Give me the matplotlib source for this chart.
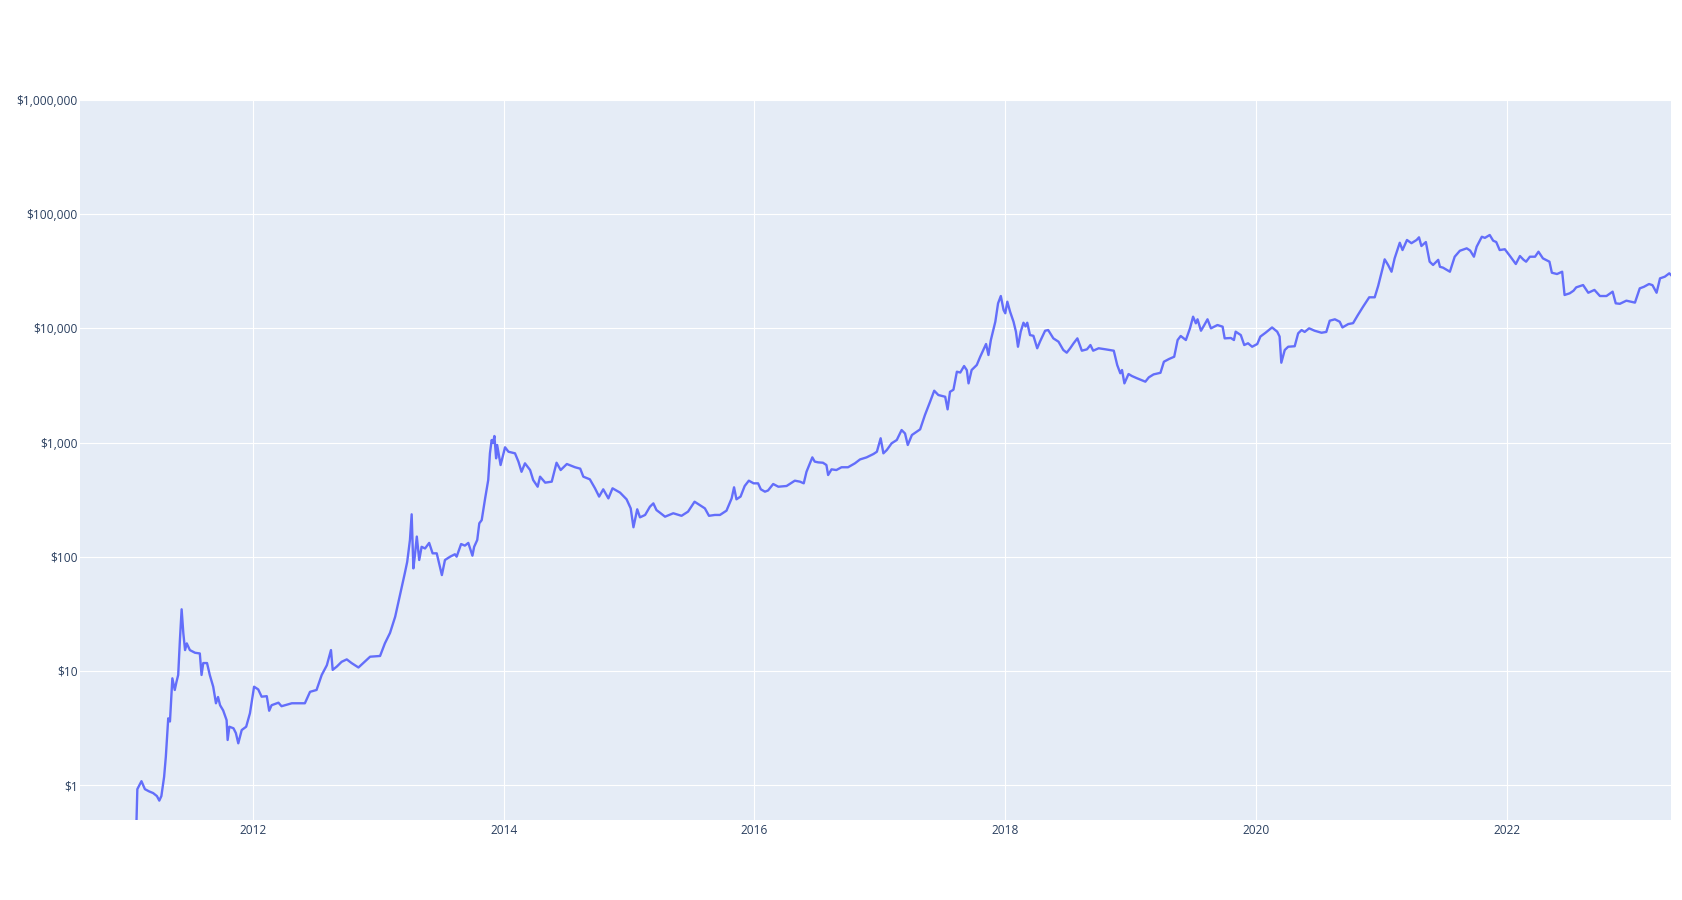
import matplotlib
matplotlib.use("Agg")
import matplotlib.pyplot as plt
import matplotlib.dates as mdates
from matplotlib.ticker import FixedLocator, NullLocator, FuncFormatter
import pandas as pd

# bitcoin close price (log scale)
dates = [
    "2010-08-16", "2010-09-15", "2010-10-15", "2010-11-06", "2010-12-01", "2011-01-01", "2011-01-27",
    "2011-01-30", "2011-02-11", "2011-02-21", "2011-03-05", "2011-03-17", "2011-03-28", "2011-04-04",
    "2011-04-10", "2011-04-18", "2011-04-23", "2011-04-30", "2011-05-05", "2011-05-12", "2011-05-19",
    "2011-05-24", "2011-05-29", "2011-06-03", "2011-06-08", "2011-06-13", "2011-06-18", "2011-06-23",
    "2011-07-02", "2011-07-17", "2011-07-31", "2011-08-05", "2011-08-10", "2011-08-21", "2011-08-29",
    "2011-09-08", "2011-09-16", "2011-09-22", "2011-09-28", "2011-10-07", "2011-10-17", "2011-10-20",
    "2011-10-25", "2011-11-06", "2011-11-13", "2011-11-20", "2011-11-30", "2011-12-13", "2011-12-24",
    "2012-01-05", "2012-01-17", "2012-01-27", "2012-02-11", "2012-02-18", "2012-02-25", "2012-03-16",
    "2012-03-25", "2012-04-24", "2012-06-01", "2012-06-16", "2012-07-05", "2012-07-20", "2012-08-04",
    "2012-08-16", "2012-08-21", "2012-09-02", "2012-09-16", "2012-10-01", "2012-10-15", "2012-11-04",
    "2012-11-18", "2012-12-08", "2013-01-06", "2013-01-20", "2013-02-04", "2013-02-19", "2013-03-05",
    "2013-03-19", "2013-03-26", "2013-04-03", "2013-04-08", "2013-04-13", "2013-04-17", "2013-04-23",
    "2013-04-30", "2013-05-07", "2013-05-17", "2013-05-29", "2013-06-08", "2013-06-20", "2013-07-05",
    "2013-07-14", "2013-07-29", "2013-08-12", "2013-08-17", "2013-08-30", "2013-09-10", "2013-09-20",
    "2013-10-02", "2013-10-07", "2013-10-16", "2013-10-22", "2013-10-29", "2013-11-08", "2013-11-17",
    "2013-11-22", "2013-11-27", "2013-12-01", "2013-12-05", "2013-12-10", "2013-12-13", "2013-12-23",
    "2014-01-05", "2014-01-15", "2014-02-03", "2014-02-13", "2014-02-22", "2014-03-04", "2014-03-19",
    "2014-03-28", "2014-04-10", "2014-04-17", "2014-05-02", "2014-05-21", "2014-06-04", "2014-06-16",
    "2014-07-04", "2014-07-28", "2014-08-12", "2014-08-21", "2014-09-09", "2014-09-24", "2014-10-06",
    "2014-10-18", "2014-11-02", "2014-11-14", "2014-12-06", "2014-12-25", "2015-01-06", "2015-01-14",
    "2015-01-25", "2015-02-02", "2015-02-17", "2015-03-03", "2015-03-13", "2015-03-22", "2015-04-01",
    "2015-04-16", "2015-05-10", "2015-06-03", "2015-06-22", "2015-07-11", "2015-07-26", "2015-08-10",
    "2015-08-22", "2015-09-08", "2015-09-23", "2015-10-12", "2015-10-27", "2015-11-03", "2015-11-10",
    "2015-11-22", "2015-12-04", "2015-12-16", "2015-12-30", "2016-01-12", "2016-01-20", "2016-02-01",
    "2016-02-10", "2016-02-25", "2016-03-11", "2016-04-04", "2016-04-28", "2016-05-13", "2016-05-24",
    "2016-06-01", "2016-06-18", "2016-06-25", "2016-07-05", "2016-07-19", "2016-07-29", "2016-08-03",
    "2016-08-13", "2016-08-27", "2016-09-11", "2016-09-30", "2016-10-20", "2016-11-04", "2016-11-23",
    "2016-12-13", "2016-12-23", "2017-01-03", "2017-01-11", "2017-01-21", "2017-02-04", "2017-02-19",
    "2017-03-05", "2017-03-15", "2017-03-23", "2017-04-04", "2017-04-28", "2017-05-12", "2017-05-27",
    "2017-06-08", "2017-06-20", "2017-07-10", "2017-07-17", "2017-07-24", "2017-08-03", "2017-08-13",
    "2017-08-23", "2017-09-03", "2017-09-11", "2017-09-16", "2017-09-25", "2017-10-10", "2017-10-20",
    "2017-11-06", "2017-11-13", "2017-11-20", "2017-12-03", "2017-12-11", "2017-12-19", "2017-12-27",
    "2018-01-01", "2018-01-07", "2018-01-15", "2018-01-25", "2018-02-01", "2018-02-07", "2018-02-15",
    "2018-02-23", "2018-03-01", "2018-03-06", "2018-03-14", "2018-03-24", "2018-04-04", "2018-04-12",
    "2018-04-27", "2018-05-06", "2018-05-21", "2018-06-05", "2018-06-19", "2018-06-29", "2018-07-09",
    "2018-07-19", "2018-07-30", "2018-08-12", "2018-08-27", "2018-09-06", "2018-09-14", "2018-09-30",
    "2018-10-20", "2018-11-13", "2018-11-23", "2018-12-02", "2018-12-07", "2018-12-14", "2018-12-26",
    "2019-01-05", "2019-01-20", "2019-02-13", "2019-02-23", "2019-03-09", "2019-03-29", "2019-04-08",
    "2019-04-23", "2019-05-08", "2019-05-18", "2019-05-27", "2019-06-11", "2019-06-23", "2019-07-02",
    "2019-07-10", "2019-07-15", "2019-07-25", "2019-08-03", "2019-08-13", "2019-08-23", "2019-09-11",
    "2019-09-26", "2019-10-02", "2019-10-20", "2019-10-29", "2019-11-03", "2019-11-18", "2019-11-28",
    "2019-12-09", "2019-12-21", "2020-01-05", "2020-01-14", "2020-01-29", "2020-02-17", "2020-03-03",
    "2020-03-10", "2020-03-15", "2020-03-25", "2020-04-04", "2020-04-23", "2020-05-03", "2020-05-13",
    "2020-05-22", "2020-06-04", "2020-06-20", "2020-07-10", "2020-07-24", "2020-08-03", "2020-08-18",
    "2020-09-01", "2020-09-09", "2020-09-26", "2020-10-10", "2020-10-24", "2020-11-08", "2020-11-26",
    "2020-12-12", "2020-12-22", "2021-01-04", "2021-01-10", "2021-01-20", "2021-01-30", "2021-02-08",
    "2021-02-23", "2021-03-03", "2021-03-16", "2021-03-29", "2021-04-13", "2021-04-20", "2021-04-27",
    "2021-05-10", "2021-05-21", "2021-05-31", "2021-06-15", "2021-06-20", "2021-06-29", "2021-07-19",
    "2021-08-02", "2021-08-17", "2021-09-06", "2021-09-16", "2021-09-27", "2021-10-05", "2021-10-20",
    "2021-10-29", "2021-11-12", "2021-11-22", "2021-12-01", "2021-12-11", "2021-12-26", "2022-01-10",
    "2022-01-27", "2022-02-08", "2022-02-18", "2022-02-26", "2022-03-09", "2022-03-24", "2022-04-03",
    "2022-04-16", "2022-05-05", "2022-05-12", "2022-05-27", "2022-06-11", "2022-06-18", "2022-07-03",
    "2022-07-14", "2022-07-22", "2022-08-11", "2022-08-26", "2022-09-13", "2022-09-29", "2022-10-18",
    "2022-11-05", "2022-11-14", "2022-11-26", "2022-12-15", "2023-01-09", "2023-01-23", "2023-02-04",
    "2023-02-19", "2023-03-01", "2023-03-13", "2023-03-23", "2023-04-06", "2023-04-19", "2023-04-24",
]
prices = [
    0.07, 0.06, 0.10, 0.39, 0.21, 0.30, 0.42,
    0.92, 1.08, 0.92, 0.88, 0.85, 0.80, 0.73,
    0.80, 1.18, 1.77, 3.84, 3.60, 8.6, 6.8,
    8.0, 9.2, 18.6, 34.6, 21.3, 15.2, 17.4,
    15.2, 14.4, 14.2, 9.2, 11.7, 11.7, 9.2,
    7.26, 5.2, 5.9, 5.0, 4.5, 3.7, 2.48,
    3.24, 3.14, 2.85, 2.32, 3.03, 3.24, 4.25,
    7.26, 6.88, 5.94, 6.0, 4.47, 5.0, 5.26,
    4.9, 5.2, 5.2, 6.55, 6.8, 9.2, 11.2,
    15.2, 10.2, 10.9, 12.0, 12.6, 11.7, 10.7,
    11.7, 13.3, 13.5, 17.4, 21.5, 29.8, 46,
    71.5, 90, 140, 235, 79, 100, 150,
    93.5, 122, 118, 132, 107, 107, 69,
    93.5, 100, 105, 100, 129, 125, 132,
    102, 122, 140, 196, 209, 324, 469,
    804, 1052, 990, 1140, 727, 951, 635,
    908, 830, 804, 680, 554, 657, 574,
    469, 410, 502, 445, 454, 665, 574,
    648, 607, 590, 502, 476, 397, 336,
    389, 324, 397, 364, 318, 265, 181,
    260, 221, 232, 274, 293, 256, 243,
    224, 240, 228, 248, 303, 283, 265,
    228, 232, 232, 253, 324, 405, 318,
    336, 416, 463, 439, 439, 389, 371,
    380, 433, 410, 416, 463, 454, 439,
    554, 741, 680, 670, 665, 635, 519,
    582, 574, 607, 607, 657, 711, 741,
    793, 830, 1089, 804, 860, 984, 1052,
    1286, 1200, 951, 1163, 1304, 1741, 2276,
    2842, 2606, 2516, 1951, 2779, 2900, 4170,
    4100, 4677, 4300, 3296, 4314, 4775, 5640,
    7290, 5840, 7900, 11430, 16560, 19190, 14480,
    13550, 17100, 13990, 11430, 9350, 6900, 9350,
    11200, 10400, 11200, 8730, 8600, 6690, 7640,
    9530, 9660, 8170, 7640, 6460, 6120, 6690,
    7400, 8170, 6370, 6550, 7140, 6370, 6690,
    6550, 6370, 4775, 4040, 4314, 3296, 3980,
    3820, 3650, 3410, 3720, 3950, 4080, 5100,
    5390, 5640, 7900, 8570, 7900, 10000, 12650,
    11070, 12000, 9530, 10600, 12000, 10000, 10690,
    10340, 8170, 8230, 7900, 9350, 8730, 7140,
    7400, 6900, 7290, 8470, 9150, 10180, 9350,
    8470, 5000, 6460, 6900, 6970, 9040, 9660,
    9300, 10000, 9530, 9150, 9300, 11660, 12000,
    11430, 10180, 10900, 11100, 13080, 15450, 18700,
    18700, 23480, 33540, 40200, 35900, 31330, 41000,
    56200, 48500, 59400, 55700, 59400, 62700, 52600,
    57000, 38350, 35900, 39800, 34600, 34000, 31330,
    42400, 47800, 50200, 48000, 42400, 51900, 63400,
    62000, 65700, 58600, 57000, 48500, 49300, 43000,
    36600, 43000, 40000, 38350, 42400, 42400, 46900,
    41000, 38350, 30700, 29900, 31330, 19600, 20270,
    21350, 22860, 23940, 20500, 21700, 19190, 19190,
    20950, 16560, 16400, 17470, 16800, 22400, 23100,
    24450, 23900, 20500, 27400, 28340, 30330, 29300,
]
y_ticks = [1, 10, 100, 1000, 10000, 100000, 1000000]

dt = pd.to_datetime(dates)

plt.rcParams['font.family'] = ['Open Sans', 'DejaVu Sans']

fig = plt.figure(figsize=(16.83, 9), dpi=100, facecolor='white')
ax = fig.add_axes([80 / 1683, 1 - 820 / 900, (1671 - 80) / 1683, 720 / 900])
ax.set_facecolor('#E5ECF6')

ax.plot(dt, prices, color='#636EFA', linewidth=1.7, solid_joinstyle='round')

ax.set_yscale('log')
ax.set_ylim(0.4938, 1e6)
ax.set_xlim(dt[0], dt[-1])

ax.yaxis.set_major_locator(FixedLocator(y_ticks))
ax.yaxis.set_minor_locator(NullLocator())
ax.yaxis.set_major_formatter(FuncFormatter(lambda v, p: "${:,.0f}".format(v)))
ax.xaxis.set_major_locator(mdates.YearLocator(2))
ax.xaxis.set_major_formatter(mdates.DateFormatter('%Y'))

ax.grid(True, color='white', linewidth=0.8)
ax.set_axisbelow(True)
for s in ax.spines.values():
    s.set_visible(False)
ax.tick_params(axis='both', length=0, labelsize=8.6, colors='#2a3f5f')
ax.tick_params(axis='y', pad=1.5)
ax.tick_params(axis='x', pad=3)

fig.savefig('out.png', dpi=100)
